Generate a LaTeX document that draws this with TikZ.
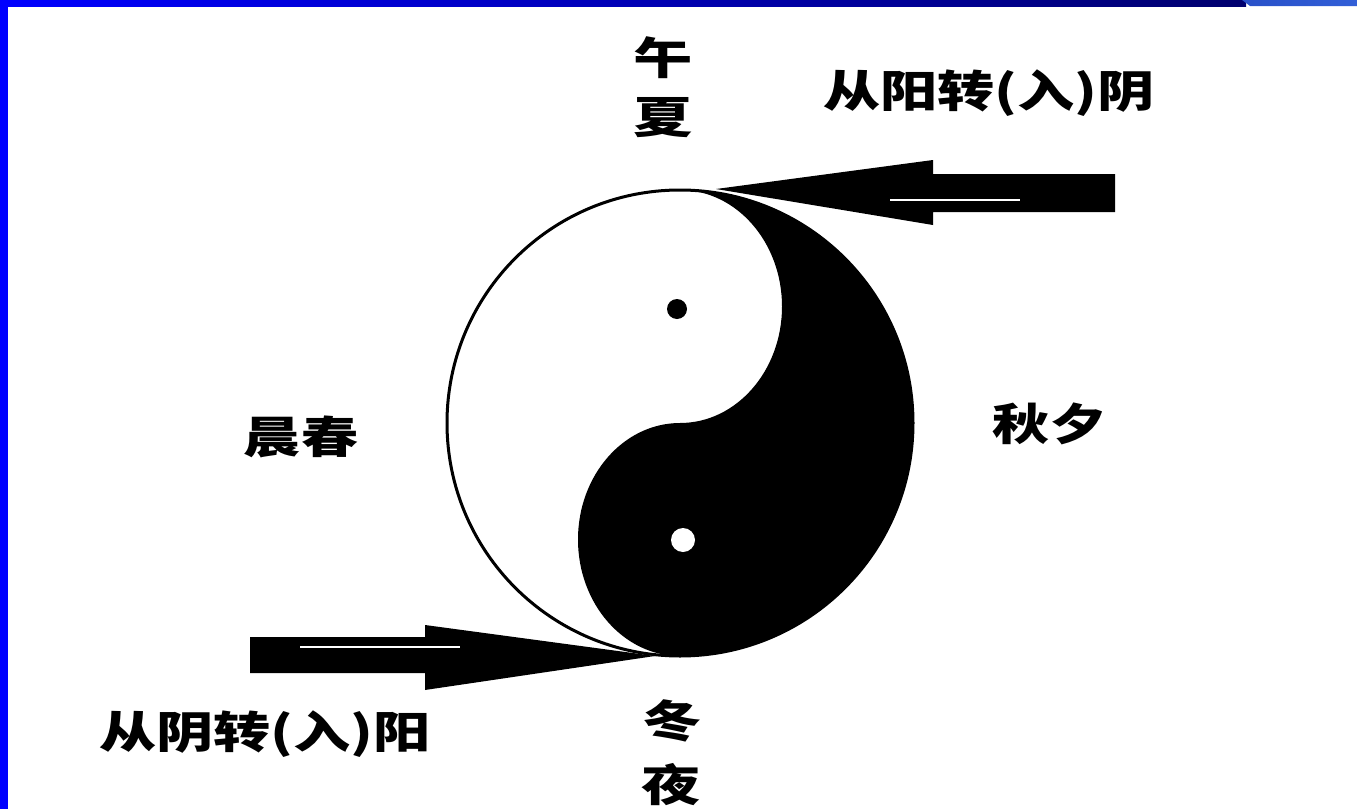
\documentclass[tikz,border=0pt]{standalone}
\usepackage{fontspec}
\newfontfamily\cjk{Noto Sans CJK SC}
\begin{document}
\begin{tikzpicture}[x=0.5pt,y=-0.5pt,
  lbl/.style={font=\cjk\bfseries\fontsize{22}{26}\selectfont, inner sep=0pt},
  arrowfill/.style={fill=black, draw=none}]
\useasboundingbox (0,0) rectangle (1357,809);
\fill[white] (0,0) rectangle (1357,809);
% frame
\shade[left color=blue, right color={rgb,255:red,0;green,0;blue,110}] (0,0) rectangle (1246,6);
\shade[left color={rgb,255:red,40;green,80;blue,200}, right color={rgb,255:red,50;green,95;blue,215}] (1242,0) -- (1357,0) -- (1357,6) -- (1250,6) -- cycle;
\fill[blue] (0,0) rectangle (8,809);
% yin-yang
\coordinate (C) at (680,423);
\coordinate (T) at (680,190);
\coordinate (B) at (680,656);
\draw[line width=1.5pt, fill=white] (C) circle[radius=233];
\fill[black] (T) arc[start angle=-90,end angle=90,radius=233]
  arc[start angle=90,end angle=270,x radius=102,y radius=116.5]
  arc[start angle=90,end angle=-90,x radius=102,y radius=116.5] -- cycle;
\fill[black] (677,309) circle[radius=10];
\fill[white] (683,540) circle[radius=12];
% arrows
\coordinate (tipTop) at (716,189);
\coordinate (tipBot) at (655,656);
\fill[arrowfill] (1115,174) -- (933,174) -- (933,160) -- (tipTop) -- (933,225) -- (933,212) -- (1115,212) -- cycle;
\draw[white, line width=0.6pt] (890,200) -- (1020,200);
\fill[arrowfill] (250,637) -- (425,637) -- (425,625) -- (tipBot) -- (425,690) -- (425,673) -- (250,673) -- cycle;
\draw[white, line width=0.6pt] (300,647) -- (460,647);
% labels
\node[lbl] (wu) at (663,58) {\scalebox{1.35}[1]{午}};
\node[lbl] (xia) at (663,118) {\scalebox{1.35}[1]{夏}};
\node[lbl] (yang2yin) at (989,93) {\scalebox{1.3}[1]{从阳转(入)阴}};
\node[lbl] (yin2yang) at (265,734) {\scalebox{1.3}[1]{从阴转(入)阳}};
\node[lbl] (chenchun) at (301,437) {\scalebox{1.3}[1]{晨春}};
\node[lbl] (qiuxi) at (1050,424) {\scalebox{1.3}[1]{秋夕}};
\node[lbl] (dong) at (672,721) {\scalebox{1.35}[1]{冬}};
\node[lbl] (ye) at (671,785) {\scalebox{1.35}[1]{夜}};
\end{tikzpicture}
\end{document}
